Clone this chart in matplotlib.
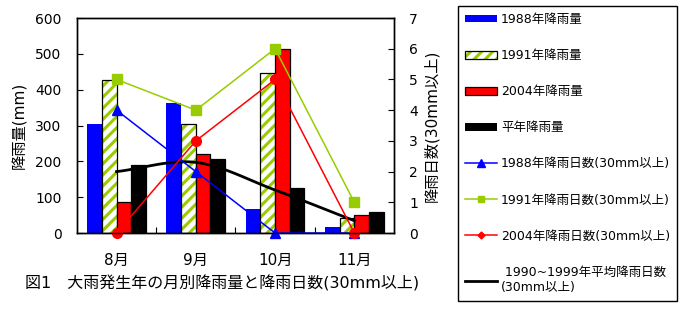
import numpy as np
import matplotlib.pyplot as plt
from matplotlib.patches import Patch
from matplotlib.lines import Line2D
from matplotlib.legend_handler import HandlerTuple

# latin/digits from DejaVu (wide, like the original), kanji from Noto CJK
plt.rcParams['font.family'] = ['DejaVu Sans', 'Noto Sans CJK JP']
plt.rcParams['hatch.linewidth'] = 2.2

months = ['8月', '9月', '10月', '11月']

# monthly rainfall (mm)
rain_1988 = [304, 362, 66, 17]
rain_1991 = [426, 303, 446, 41]
rain_2004 = [86, 220, 513, 50]
rain_normal = [190, 206, 125, 59]

# rain days (30mm or more)
days_1988 = [4, 2, 0, 0]
days_1991 = [5, 4, 6, 1]
days_2004 = [0, 3, 5, 0]
days_normal = [2.0, 2.3, 1.4, 0.4]

blue = '#0000FF'
green = '#99CC00'
red = '#FF0000'


def smooth(xs, ys, n=30):
    # catmull-rom curve through the points, like excel's smoothed line
    xs = np.asarray(xs, float)
    ys = np.asarray(ys, float)
    px = np.concatenate([[2*xs[0]-xs[1]], xs, [2*xs[-1]-xs[-2]]])
    py = np.concatenate([[2*ys[0]-ys[1]], ys, [2*ys[-1]-ys[-2]]])
    outx, outy = [], []
    t = np.linspace(0, 1, n)
    for i in range(1, len(px)-2):
        for p, out in ((px, outx), (py, outy)):
            p0, p1, p2, p3 = p[i-1], p[i], p[i+1], p[i+2]
            out.extend(0.5*((2*p1) + (-p0+p2)*t + (2*p0-5*p1+4*p2-p3)*t**2
                            + (-p0+3*p1-3*p2+p3)*t**3))
    return outx, outy


fig = plt.figure(figsize=(6.93, 3.25), dpi=100)
ax = fig.add_axes([0.111, 0.283, 0.4575, 0.6616])

x = np.arange(len(months))
w = 0.185
ax.bar(x - 1.5*w, rain_1988, w, color=blue, linewidth=0)
ax.bar(x - 0.5*w, rain_1991, w, color='white', hatch='///', edgecolor=green, linewidth=0)
ax.bar(x - 0.5*w, rain_1991, w, fill=False, edgecolor='black', linewidth=0.9)
ax.bar(x + 0.5*w, rain_2004, w, color=red, edgecolor='black', linewidth=0.9)
ax.bar(x + 1.5*w, rain_normal, w, color='black', edgecolor='black', linewidth=0.9)

ax.set_xlim(-0.5, 3.5)
ax.set_ylim(0, 600)
ax.set_yticks(range(0, 601, 100))
ax.set_xticks([0.5, 1.5, 2.5])
ax.set_xticklabels([])
ax.set_xticks(x, minor=True)
ax.set_xticklabels(months, minor=True, fontsize=11)
ax.tick_params(axis='x', which='major', direction='in', length=4)
ax.tick_params(axis='x', which='minor', length=0, pad=14)
ax.tick_params(axis='y', direction='in', length=4, labelsize=10, pad=11)
ax.set_ylabel('降雨量(mm)', fontsize=11, labelpad=6)

ax2 = ax.twinx()
ax2.set_ylim(0, 7)
ax2.set_yticks(range(0, 8))
ax2.tick_params(axis='y', direction='in', length=4, labelsize=10, pad=11)
ax2.set_ylabel('降雨日数(30mm以上)', fontsize=11, labelpad=4)

sx, sy = smooth(x, days_normal)
ax2.plot(sx, sy, color='black', lw=2, clip_on=False)
ax2.plot(x, days_1988, color=blue, lw=1.1, marker='^', ms=7, clip_on=False)
ax2.plot(x, days_1991, color=green, lw=1.1, marker='s', ms=6.5, clip_on=False)
ax2.plot(x, days_2004, color=red, lw=1.1, marker='o', ms=7, clip_on=False)

for a in (ax, ax2):
    for s in a.spines.values():
        s.set_linewidth(1)

handles = [
    Patch(facecolor=blue, linewidth=0),
    (Patch(facecolor='white', hatch='///', edgecolor=green, linewidth=0),
     Patch(fill=False, edgecolor='black', linewidth=0.9)),
    Patch(facecolor=red, edgecolor='black', linewidth=0.9),
    Patch(facecolor='black'),
    Line2D([], [], color=blue, lw=1.1, marker='^', ms=6),
    Line2D([], [], color=green, lw=1.1, marker='s', ms=5),
    Line2D([], [], color=red, lw=1.1, marker='D', ms=3.5),
    Line2D([], [], color='black', lw=2),
]
labels = ['1988年降雨量', '1991年降雨量', '2004年降雨量', '平年降雨量',
          '1988年降雨日数(30mm以上)', '1991年降雨日数(30mm以上)',
          '2004年降雨日数(30mm以上)', ' 1990~1999年平均降雨日数\n(30mm以上)']
leg = fig.legend(handles, labels, loc='upper left',
                 bbox_to_anchor=(458/693, 1 - 6/325), fontsize=9,
                 handler_map={tuple: HandlerTuple(ndivide=1)},
                 handlelength=2.6, handleheight=0.6, handletextpad=0.3,
                 labelspacing=1.85, borderpad=0.55, borderaxespad=0,
                 fancybox=False, edgecolor='black', framealpha=1)
leg.get_frame().set_linewidth(1)

fig.text(25/693, 1 - 283/325, '図1　大雨発生年の月別降雨量と降雨日数(30mm以上)',
         fontsize=11.5, va='center', ha='left')

fig.savefig('out.png', dpi=100)
